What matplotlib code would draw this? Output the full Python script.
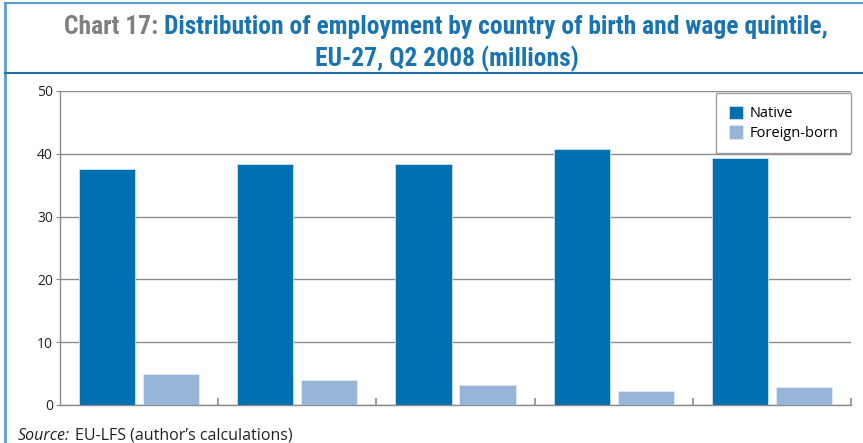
import numpy as np
import matplotlib.pyplot as plt
from matplotlib import font_manager
from matplotlib.lines import Line2D

# Data (millions)
quintiles = ['Q1', 'Q2', 'Q3', 'Q4', 'Q5']
native = [37.6, 38.3, 38.3, 40.8, 39.4]
foreign_born = [5.0, 4.0, 3.2, 2.2, 2.8]

NATIVE_COLOR = '#0070b0'
FOREIGN_COLOR = '#97b5d9'
TITLE_BLUE = '#1a74b2'
GRID_GRAY = '#8c8c8c'

plt.rcParams['font.family'] = ['Open Sans', 'DejaVu Sans']


def _narrow_family():
    """Pick a condensed family if one is installed, else DejaVu Sans."""
    names = {f.name for f in font_manager.fontManager.ttflist}
    for cand in ['Liberation Sans Narrow', 'DejaVu Sans Condensed', 'Roboto Condensed',
                 'Open Sans Condensed', 'Noto Sans Condensed']:
        if cand in names:
            return cand
    return 'DejaVu Sans'


fig = plt.figure(figsize=(8.63, 4.43), dpi=100)
ax = fig.add_axes([60 / 863, 1 - 405 / 443, 791 / 863, 314 / 443])

x = np.arange(len(quintiles))
width = 0.355
ax.bar(x - width / 2 - 0.025, native, width, color=NATIVE_COLOR, zorder=3,
       edgecolor='#cfe0f0', linewidth=0.6, label='Native')
ax.bar(x + width / 2 + 0.025, foreign_born, width, color=FOREIGN_COLOR, zorder=3,
       edgecolor='#dfe9f5', linewidth=0.6, label='Foreign-born')

ax.set_xlim(-0.5, len(quintiles) - 0.5)
ax.set_ylim(0, 50)
ax.set_yticks(range(0, 51, 10))
ax.yaxis.grid(True, color=GRID_GRAY, linewidth=1.0, zorder=0)
ax.set_xticks([])
ax.set_xticks(np.arange(len(quintiles)) + 0.5, minor=True)
ax.tick_params(axis='x', which='minor', direction='in', length=5, color=GRID_GRAY, width=1.2)
ax.tick_params(axis='y', length=3, color=GRID_GRAY, labelsize=10, pad=2, labelcolor='#222222')
for side in ['top', 'right']:
    ax.spines[side].set_visible(False)
for side in ['left', 'bottom']:
    ax.spines[side].set_color(GRID_GRAY)
    ax.spines[side].set_linewidth(1.0)

leg = ax.legend(loc='upper right', bbox_to_anchor=(1.0, 0.993), frameon=True, fancybox=False,
                fontsize=10.5, handlelength=1.0, handleheight=1.0, handletextpad=0.45,
                borderpad=0.85, labelspacing=0.3, borderaxespad=0)
leg.get_frame().set_edgecolor('#8c8c8c')
leg.get_frame().set_linewidth(1.0)

# figure frame lines
frame_color = '#5b9fd0'
fig.add_artist(Line2D([5 / 863, 5 / 863], [0, 1 - 3 / 443], color=frame_color, lw=2,
                      transform=fig.transFigure))
fig.add_artist(Line2D([5 / 863, 1], [1 - 3 / 443, 1 - 3 / 443], color=frame_color, lw=1.5,
                      transform=fig.transFigure))
fig.add_artist(Line2D([5 / 863, 1], [1 - 73 / 443, 1 - 73 / 443], color='#1f6fa8', lw=1.5,
                      transform=fig.transFigure))

# two-colour title, first line; font size fitted to the reference line width (~768 px)
fam = _narrow_family()
renderer = fig.canvas.get_renderer()
y1 = 1 - 27 / 443
t1 = fig.text(0, y1, 'Chart 17: ', color='#808080', va='center', ha='left',
              family=fam, fontsize=17, fontweight='bold')
t2 = fig.text(0, y1, 'Distribution of employment by country of birth and wage quintile,',
              color=TITLE_BLUE, va='center', ha='left', family=fam, fontsize=17, fontweight='bold')
total = t1.get_window_extent(renderer).width + t2.get_window_extent(renderer).width
size = min(20, 17 * 766 / total)
t1.set_fontsize(size)
t2.set_fontsize(size)
w1 = t1.get_window_extent(renderer).width / fig.bbox.width
w2 = t2.get_window_extent(renderer).width / fig.bbox.width
start = 446 / 863 - (w1 + w2) / 2
t1.set_x(start)
t2.set_x(start + w1)
fig.text(447 / 863, 1 - 59 / 443, 'EU-27, Q2 2008 (millions)', color=TITLE_BLUE,
         va='center', ha='center', family=fam, fontsize=size, fontweight='bold')

# source note
fig.text(18 / 863, 1 - 436 / 443, 'Source:', fontsize=11.5, style='italic', color='#222222',
         va='center', ha='left')
fig.text(75 / 863, 1 - 436 / 443, 'EU-LFS (author\u2019s calculations)', fontsize=11.5,
         color='#222222', va='center', ha='left')

fig.savefig('out.png', dpi=100)
